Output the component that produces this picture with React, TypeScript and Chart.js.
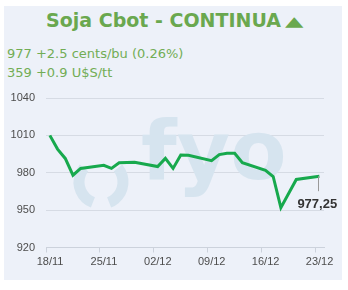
import React, { useEffect, useRef } from "react";
import { Chart, registerables } from "chart.js";

Chart.register(...registerables);

const titleText = "Soja Cbot - CONTINUA";
const subtitleLines = ["977 +2.5 cents/bu (0.26%)", "359 +0.9 U$S/tt"];

const dates = [
  "2019-11-18", "2019-11-19", "2019-11-20", "2019-11-21", "2019-11-22",
  "2019-11-25", "2019-11-26", "2019-11-27", "2019-11-29",
  "2019-12-02", "2019-12-03", "2019-12-04", "2019-12-05", "2019-12-06",
  "2019-12-09", "2019-12-10", "2019-12-11", "2019-12-12", "2019-12-13",
  "2019-12-16", "2019-12-17", "2019-12-18", "2019-12-20", "2019-12-23",
];
const prices = [
  1010, 999, 991.5, 978, 983.5,
  986, 983.5, 988, 988.5,
  985, 991.5, 983.5, 994.2, 994,
  989.7, 994.6, 995.7, 995.7, 988,
  982, 977, 952, 974.6, 977.25,
];
const xTickLabels = ["18/11", "25/11", "02/12", "09/12", "16/12", "23/12"];
const yTicks = [920, 950, 980, 1010, 1040];

const DAY = 86400000;
const t0 = Date.parse(dates[0] + "T00:00:00Z");
const points = dates.map((d, i) => ({
  x: (Date.parse(d + "T12:00:00Z") - t0) / DAY,
  y: prices[i],
}));

const WM = "#d6e4ef";

const watermark = {
  id: "watermark",
  beforeDatasetsDraw(chart: any) {
    const ctx = chart.ctx;
    ctx.save();
    ctx.fillStyle = WM;
    ctx.strokeStyle = WM;
    ctx.font = "bold 82px 'DejaVu Sans'";
    ctx.textBaseline = "alphabetic";
    ctx.textAlign = "left";
    ctx.fillText("fyo", 141, 179);
    ctx.lineWidth = 11;
    ctx.beginPath();
    ctx.arc(101, 182, 22, 0.62 * Math.PI, 1.22 * Math.PI);
    ctx.stroke();
    ctx.beginPath();
    ctx.arc(101, 182, 22, -0.22 * Math.PI, 0.38 * Math.PI);
    ctx.stroke();
    ctx.restore();
  },
};

const lastLabel = {
  id: "lastLabel",
  afterDatasetsDraw(chart: any) {
    const meta = chart.getDatasetMeta(0);
    const pt = meta.data[meta.data.length - 1];
    if (!pt) return;
    const v = prices[prices.length - 1];
    const ctx = chart.ctx;
    ctx.save();
    ctx.strokeStyle = "#999999";
    ctx.lineWidth = 1;
    ctx.beginPath();
    ctx.moveTo(Math.round(pt.x) - 0.5, pt.y);
    ctx.lineTo(Math.round(pt.x) - 0.5, pt.y + 15);
    ctx.stroke();
    ctx.fillStyle = "#333333";
    ctx.font = "bold 13px 'Liberation Sans', Arial, sans-serif";
    ctx.textBaseline = "middle";
    ctx.textAlign = "left";
    ctx.fillText(v.toFixed(2).replace(".", ","), pt.x - 22, pt.y + 28);
    ctx.restore();
  },
};

export default function App() {
  const ref = useRef<HTMLCanvasElement>(null);
  useEffect(() => {
    if (!ref.current) return;
    const tickFont = { family: "'Liberation Sans', Arial, sans-serif", size: 11 };
    const chart = new Chart(ref.current, {
      type: "line",
      data: {
        datasets: [
          {
            data: points,
            borderColor: "#17a94d",
            borderWidth: 3,
            pointRadius: 0,
            tension: 0,
            fill: false,
          },
        ],
      },
      options: {
        animation: false,
        responsive: false,
        parsing: false as any,
        layout: { padding: { top: 98, right: 24, left: 0, bottom: 0 } },
        plugins: { legend: { display: false }, tooltip: { enabled: false }, title: { display: false } },
        scales: {
          x: {
            type: "linear",
            min: 0,
            max: 36.1,
            afterBuildTicks: (s: any) => {
              s.ticks = xTickLabels.map((_, i) => ({ value: i * 7 }));
            },
            afterFit: (s: any) => {
              s.height = 42.5;
            },
            ticks: {
              callback: (_v: any, i: number) => xTickLabels[i],
              labelOffset: 4,
              padding: 3,
              maxRotation: 0,
              autoSkip: false,
              color: "#4d4d4d",
              font: tickFont,
            },
            grid: { drawOnChartArea: false, tickLength: 5, color: "#ccd2dc" },
            border: { display: true, color: "#ccd2dc" },
          },
          y: {
            min: yTicks[0],
            max: yTicks[yTicks.length - 1],
            afterBuildTicks: (s: any) => {
              s.ticks = yTicks.map((v) => ({ value: v }));
            },
            afterFit: (s: any) => {
              s.width = 46;
            },
            ticks: {
              padding: 11,
              color: "#4d4d4d",
              font: tickFont,
              callback: (v: any) => String(v),
            },
            grid: { color: "#d6dbe4", drawTicks: false },
            border: { display: false },
          },
        },
      },
      plugins: [watermark, lastLabel],
    });
    return () => chart.destroy();
  }, []);

  return (
    <div style={{ position: "fixed", left: 0, top: 0, width: 348, height: 290, background: "#ffffff", overflow: "hidden" }}>
      <div style={{ position: "absolute", left: 4, top: 6, width: 338, height: 274, background: "#edf1f9" }} />
      <div
        style={{
          position: "absolute", left: 0, top: 9, width: 346, textAlign: "center",
          fontFamily: "'DejaVu Sans', Verdana, sans-serif", fontWeight: "bold", fontSize: 19,
          lineHeight: "22px", color: "#6aa84f", whiteSpace: "nowrap",
        }}
      >
        {titleText}{" "}
        <span style={{ display: "inline-block", transform: "scale(1.5, 0.85)", fontSize: 16 }}>▲</span>
      </div>
      <div
        style={{
          position: "absolute", left: 7, top: 44, fontFamily: "'DejaVu Sans', Verdana, sans-serif",
          fontSize: 13, lineHeight: "19.4px", color: "#72ad55", whiteSpace: "nowrap",
        }}
      >
        {subtitleLines.map((l) => (
          <div key={l}>{l}</div>
        ))}
      </div>
      <canvas ref={ref} width={348} height={290} style={{ position: "absolute", left: 0, top: 0 }} />
    </div>
  );
}
